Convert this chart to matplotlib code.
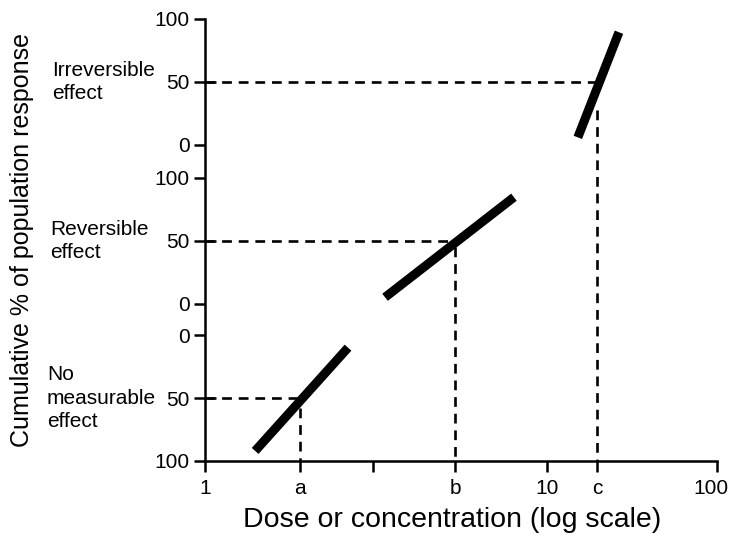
import matplotlib
matplotlib.use("Agg")
import matplotlib.pyplot as plt
import matplotlib.transforms as mtransforms
from matplotlib.ticker import NullLocator

plt.rcParams['font.family'] = ['Liberation Sans', 'DejaVu Sans']

# x axis: dose (log scale), tick positions
x_ticks = [1, 2.35, 4.53, 9.48, 21.7, 34.0, 100]
x_labels = ['1', 'a', '', 'b', '10', 'c', '100']

# three stacked response panels, bottom to top
panel_names = ['No\nmeasurable\neffect', 'Reversible\neffect', 'Irreversible\neffect']
tick_pcts = [0, 50, 100]

# thick dose-response lines: dose and % response at both ends
line_dose = [[1.57, 3.62], [5.05, 16.1], [28.6, 41.4]]
line_pct = [[92, 10], [5, 84.5], [6, 89.5]]

# dose giving 50 % response (a, b, c) and % where the dashed drop starts
ed50 = [2.35, 9.48, 34.0]
drop_pct = [58, 45, 27.5]

# where each panel sits on the shared y axis (bottom panel is upside down)
panel_base = [100, 125, 251]
panel_sign = [-1, 1, 1]
label_x = [47, 50, 52]


def to_y(i, pct):
    return panel_base[i] + panel_sign[i] * pct


fig = plt.figure(figsize=(7.29, 5.38), dpi=100)
ax = fig.add_axes([205 / 729, 1 - 461 / 538, 512 / 729, 442 / 538])
ax.set_xscale('log')
ax.set_xlim(1, 100)
ax.set_ylim(0, 351)

for s in ['top', 'right']:
    ax.spines[s].set_visible(False)
for s in ['left', 'bottom']:
    ax.spines[s].set_linewidth(1.8)

dash = dict(color='black', lw=1.9, dashes=(3.7, 2.6))
for i in range(3):
    y50 = to_y(i, 50)
    ax.plot([1, ed50[i]], [y50, y50], clip_on=False, **dash)
    ax.plot([ed50[i], ed50[i]], [to_y(i, drop_pct[i]), 0], clip_on=False, **dash)
    ax.plot(line_dose[i], [to_y(i, p) for p in line_pct[i]], color='black',
            lw=6.5, solid_capstyle='butt')

# y ticks: the 50 % ticks cross the axis, the others point outwards
major_y = [to_y(i, 50) for i in range(3)]
minor_y, minor_lbl = [], []
for i in range(3):
    for p in (tick_pcts[0], tick_pcts[2]):
        minor_y.append(to_y(i, p))
        minor_lbl.append(str(p))
ax.set_yticks(major_y)
ax.set_yticklabels([str(tick_pcts[1])] * 3)
ax.set_yticks(minor_y, minor=True)
ax.set_yticklabels(minor_lbl, minor=True)
ax.tick_params(axis='y', which='major', direction='inout', length=16, width=1.8,
               labelsize=15, pad=3)
ax.tick_params(axis='y', which='minor', direction='out', length=8, width=1.8,
               labelsize=15, pad=3)

ax.set_xticks(x_ticks)
ax.set_xticklabels(x_labels)
ax.xaxis.set_minor_locator(NullLocator())
ax.tick_params(axis='x', which='major', direction='out', length=8, width=1.8,
               labelsize=15, pad=5)
# last label sits a little left so it stays inside the picture
last = ax.get_xticklabels()[-1]
last.set_transform(last.get_transform() +
                   mtransforms.ScaledTranslation(-6 / 100, 0, fig.dpi_scale_trans))

blend = mtransforms.blended_transform_factory(fig.transFigure, ax.transData)
for i, name in enumerate(panel_names):
    ax.text(label_x[i] / 729, to_y(i, 50), name, transform=blend, ha='left',
            va='center', fontsize=15, linespacing=1.28)

fig.text(22 / 729, 1 - 240 / 538, 'Cumulative % of population response',
         rotation=90, ha='center', va='center', fontsize=18)
fig.text(452 / 729, 1 - 520 / 538, 'Dose or concentration (log scale)',
         ha='center', va='center', fontsize=20.5)

fig.savefig('out.png', dpi=100)
